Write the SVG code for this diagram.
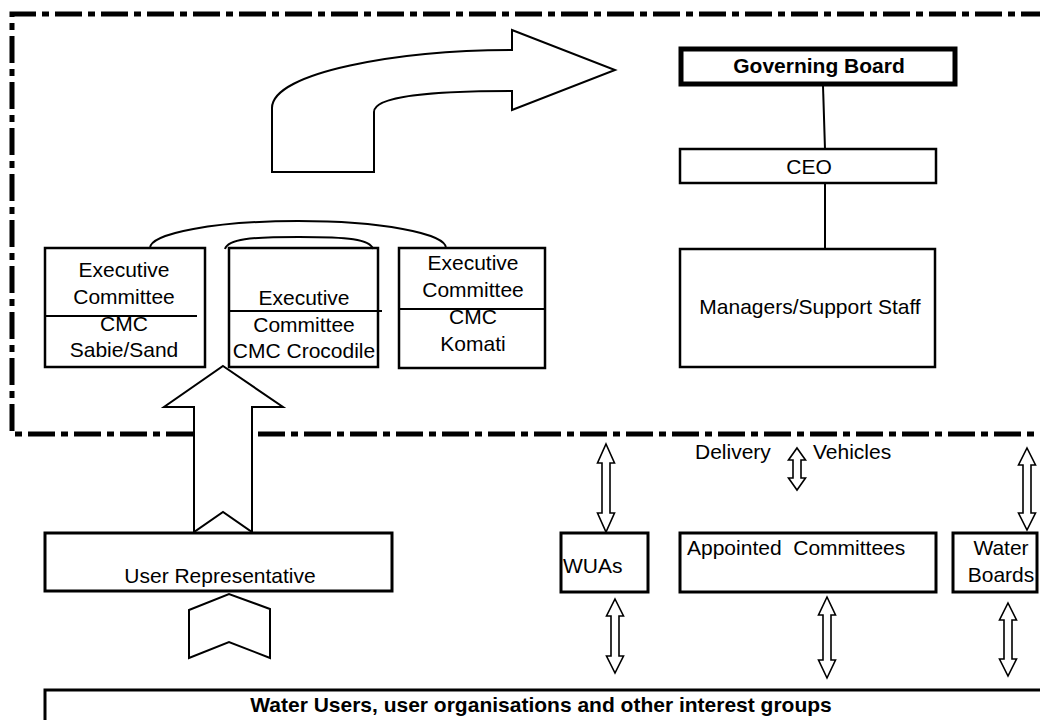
<svg xmlns="http://www.w3.org/2000/svg" width="1040" height="720" viewBox="0 0 1040 720">
<style>
text{font-family:"Liberation Sans",Arial,sans-serif;font-size:21px;fill:#000}
.b{font-weight:bold}
.c{text-anchor:middle}
.box{fill:#fff;stroke:#000;stroke-width:2.5}
.box3{fill:#fff;stroke:#000;stroke-width:3}
.ln{fill:none;stroke:#000;stroke-width:2}
.blk{fill:#fff;stroke:#000;stroke-width:2;stroke-linejoin:miter}
.dbl{fill:#fff;stroke:#000;stroke-width:1.6}
.border{fill:none;stroke:#000;stroke-width:5;stroke-dasharray:27 6 7 6}
</style>
<rect width="1040" height="720" fill="#fff"/>
<path class="border" d="M1048,14 H12 V434 H1048"/>

<g id="governing-board">
<rect x="681" y="49" width="274" height="35" fill="#fff" stroke="#000" stroke-width="5"/>
<text class="b c" x="819" y="73">Governing Board</text>
</g>
<g id="ceo">
<rect class="box" x="680" y="149" width="256" height="34"/>
<text class="c" x="809" y="174">CEO</text>
</g>
<g id="managers">
<rect class="box" x="680" y="249" width="255" height="118"/>
<text class="c" x="810" y="314">Managers/Support Staff</text>
</g>

<g id="exec-sabie">
<rect class="box" x="45" y="248" width="160" height="119"/>
<line class="ln" x1="45" y1="316" x2="197" y2="316"/>
<text class="c" x="124" y="277">Executive</text>
<text class="c" x="124" y="304">Committee</text>
<text class="c" x="124" y="331">CMC</text>
<text class="c" x="124" y="357">Sabie/Sand</text>
</g>
<g id="exec-crocodile">
<rect class="box" x="229" y="248" width="149" height="119"/>
<line class="ln" x1="229" y1="311" x2="382" y2="311"/>
<text class="c" x="304" y="305">Executive</text>
<text class="c" x="304" y="332">Committee</text>
<text class="c" x="304" y="358">CMC Crocodile</text>
</g>
<g id="exec-komati">
<rect class="box" x="399" y="248" width="146" height="120"/>
<line class="ln" x1="399" y1="309" x2="545" y2="309"/>
<text class="c" x="473" y="270">Executive</text>
<text class="c" x="473" y="297">Committee</text>
<text class="c" x="473" y="324">CMC</text>
<text class="c" x="473" y="351">Komati</text>
</g>

<g id="user-representative">
<rect class="box3" x="45" y="533" width="347" height="58"/>
<text class="c" x="220" y="583">User Representative</text>
</g>
<g id="wuas">
<rect class="box3" x="561" y="533" width="87" height="59"/>
<text x="563" y="573">WUAs</text>
</g>
<g id="appointed-committees">
<rect class="box3" x="680" y="533" width="256" height="59"/>
<text x="687" y="555" xml:space="preserve">Appointed  Committees</text>
</g>
<g id="water-boards">
<rect class="box3" x="953" y="533" width="84" height="59"/>
<text class="c" x="1001" y="555">Water</text>
<text class="c" x="1001" y="582">Boards</text>
</g>
<g id="water-users">
<rect class="box3" x="45" y="690" width="1010" height="45"/>
<text class="b c" x="541" y="712">Water Users, user organisations and other interest groups</text>
</g>
<g id="delivery-vehicles">
<text x="695" y="459">Delivery<tspan x="813">Vehicles</tspan></text>
</g>

<g id="connectors">
<line class="ln" x1="823" y1="86" x2="825" y2="149"/>
<line class="ln" x1="825" y1="183" x2="825" y2="249"/>
<path class="ln" d="M150,248 A148,27 0 0 1 446,248"/>
<path class="ln" d="M225,249 C228,239 250,237 299,237 C348,237 370,239 373,249"/>
<path class="blk" d="M272,172 L272,108 C272,72 400,50 512,50 L512,30 L615,70 L512,110 L512,91 C432,91 374,96 374,112 L374,172 Z"/>
<polygon class="blk" points="223,366 283,407 252,407 252,532 223,512 194,532 194,407 164,407"/>
<polygon class="blk" points="189,610 229,594 270,609 270,658 229,642 189,658"/>
<polygon class="dbl" points="606,444 614.5,463 610,463 610,513 614.5,513 606,532 597.5,513 602,513 602,463 597.5,463"/>
<polygon class="dbl" points="797,448 805.5,460 801,460 801,478 805.5,478 797,490 788.5,478 793,478 793,460 788.5,460"/>
<polygon class="dbl" points="1027,448 1035.5,465 1031,465 1031,513 1035.5,513 1027,530 1018.5,513 1023,513 1023,465 1018.5,465"/>
<polygon class="dbl" points="615,599 623.5,616 619,616 619,656 623.5,656 615,673 606.5,656 611,656 611,616 606.5,616"/>
<polygon class="dbl" points="827,597 835.5,615 831,615 831,660 835.5,660 827,678 818.5,660 823,660 823,615 818.5,615"/>
<polygon class="dbl" points="1008,603 1016.5,620 1012,620 1012,659 1016.5,659 1008,676 999.5,659 1004,659 1004,620 999.5,620"/>
</g>
</svg>
